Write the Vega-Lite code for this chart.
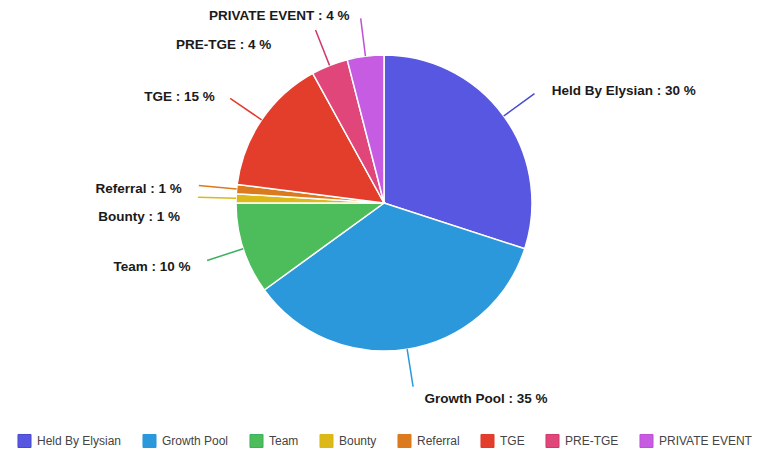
{
  "$schema": "https://vega.github.io/schema/vega-lite/v6.json",
  "width": 768,
  "height": 406,
  "padding": 0,
  "autosize": {"type": "pad"},
  "background": "white",
  "config": {"view": {"stroke": null}},
  "data": {
    "values": [
      {"cat": "Held By Elysian", "value": 30},
      {"cat": "Growth Pool", "value": 35},
      {"cat": "Team", "value": 10},
      {"cat": "Bounty", "value": 1},
      {"cat": "Referral", "value": 1},
      {"cat": "TGE", "value": 15},
      {"cat": "PRE-TGE", "value": 4},
      {"cat": "PRIVATE EVENT", "value": 4}
    ]
  },
  "transform": [
    {"window": [{"op": "sum", "field": "value", "as": "end"}], "frame": [null, 0]},
    {"calculate": "datum.end - datum.value", "as": "start"},
    {"calculate": "datum.end - datum.value / 2", "as": "mid"},
    {"calculate": "datum.cat + ' : ' + datum.value + ' %'", "as": "label"}
  ],
  "encoding": {
    "color": {
      "field": "cat",
      "type": "nominal",
      "scale": {
        "domain": ["Held By Elysian", "Growth Pool", "Team", "Bounty", "Referral", "TGE", "PRE-TGE", "PRIVATE EVENT"],
        "range": ["#5757e2", "#2b98dc", "#4cbd5a", "#dcb818", "#dc7a1e", "#e33d2c", "#e0467a", "#c65ce2"]
      },
      "legend": {
        "orient": "none",
        "legendX": 17,
        "legendY": 433,
        "direction": "horizontal",
        "title": null,
        "symbolType": "square",
        "symbolSize": 170,
        "symbolStrokeWidth": 1,
        "symbolOpacity": 1,
        "columnPadding": 18,
        "labelOffset": 5,
        "labelFont": "Liberation Sans",
        "labelFontSize": 12,
        "labelColor": "#444444"
      }
    }
  },
  "layer": [
    {
      "mark": {"type": "arc", "radius": 148, "stroke": "white", "strokeWidth": 1.5},
      "encoding": {
        "theta": {"field": "start", "type": "quantitative", "stack": null, "scale": {"domain": [0, 100]}},
        "theta2": {"field": "end"}
      }
    },
    {
      "mark": {"type": "arc", "radius": 186, "radius2": 148, "fill": null, "strokeWidth": 1.5, "filled": false},
      "encoding": {
        "theta": {"field": "mid", "type": "quantitative", "stack": null, "scale": {"domain": [0, 100]}},
        "theta2": {"field": "mid"},
        "stroke": {
          "field": "cat",
          "type": "nominal",
          "legend": null,
          "scale": {
            "domain": ["Held By Elysian", "Growth Pool", "Team", "Bounty", "Referral", "TGE", "PRE-TGE", "PRIVATE EVENT"],
            "range": ["#4848d0", "#2a98dc", "#3cb060", "#dcb818", "#dc7a1e", "#e03c2c", "#d03a6a", "#c050d8"]
          }
        }
      }
    },
    {
      "transform": [{"filter": "datum.mid < 50"}],
      "mark": {"type": "text", "radius": 195, "align": "left", "baseline": "middle", "dx": 10, "dy": 3, "font": "Liberation Sans", "fontWeight": "bold", "fontSize": 13.5},
      "encoding": {
        "theta": {"field": "mid", "type": "quantitative", "stack": null, "scale": {"domain": [0, 100]}},
        "text": {"field": "label"},
        "color": {"value": "#1a1a1a"}
      }
    },
    {
      "transform": [{"filter": "datum.mid > 50 && datum.cat != 'Bounty' && datum.cat != 'PRE-TGE' && datum.cat != 'PRIVATE EVENT'"}],
      "mark": {"type": "text", "radius": 195, "align": "right", "baseline": "middle", "dx": -8, "dy": 4, "font": "Liberation Sans", "fontWeight": "bold", "fontSize": 13.5},
      "encoding": {
        "theta": {"field": "mid", "type": "quantitative", "stack": null, "scale": {"domain": [0, 100]}},
        "text": {"field": "label"},
        "color": {"value": "#1a1a1a"}
      }
    },
    {
      "transform": [{"filter": "datum.cat == 'Bounty'"}],
      "mark": {"type": "text", "radius": 195, "align": "right", "baseline": "middle", "dx": -9, "dy": 20, "font": "Liberation Sans", "fontWeight": "bold", "fontSize": 13.5},
      "encoding": {
        "theta": {"field": "mid", "type": "quantitative", "stack": null, "scale": {"domain": [0, 100]}},
        "text": {"field": "label"},
        "color": {"value": "#1a1a1a"}
      }
    },
    {
      "transform": [{"filter": "datum.cat == 'PRE-TGE'"}],
      "mark": {"type": "text", "radius": 195, "align": "right", "baseline": "middle", "dx": -41, "dy": 23, "font": "Liberation Sans", "fontWeight": "bold", "fontSize": 13.5},
      "encoding": {
        "theta": {"field": "mid", "type": "quantitative", "stack": null, "scale": {"domain": [0, 100]}},
        "text": {"field": "label"},
        "color": {"value": "#1a1a1a"}
      }
    },
    {
      "transform": [{"filter": "datum.cat == 'PRIVATE EVENT'"}],
      "mark": {"type": "text", "radius": 195, "align": "right", "baseline": "middle", "dx": -10, "dy": 6, "font": "Liberation Sans", "fontWeight": "bold", "fontSize": 13.5},
      "encoding": {
        "theta": {"field": "mid", "type": "quantitative", "stack": null, "scale": {"domain": [0, 100]}},
        "text": {"field": "label"},
        "color": {"value": "#1a1a1a"}
      }
    }
  ]
}
